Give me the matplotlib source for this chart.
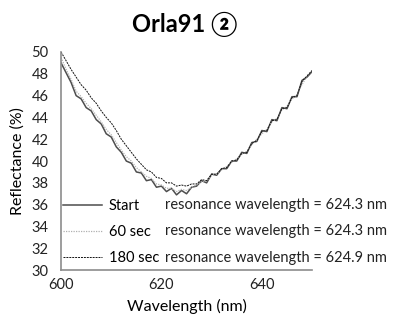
import matplotlib
matplotlib.use("Agg")
import matplotlib.pyplot as plt

# ---------------------------------------------------------------------------
# data (reflectance in %, 1 nm steps)
# ---------------------------------------------------------------------------
wavelength = list(range(600, 651))

start = [49.0, 48.1, 47.2, 46.0, 45.7, 44.9, 44.6, 43.8, 43.4, 42.5,
         42.2, 41.3, 40.8, 40.0, 39.8, 39.0, 38.9, 38.2, 38.3, 37.6,
         37.7, 37.2, 37.5, 36.9, 37.3, 37.0, 37.6, 37.7, 38.2, 38.0,
         38.8, 38.7, 39.3, 39.3, 40.0, 40.0, 40.8, 40.7, 41.7, 41.8,
         42.8, 42.7, 43.8, 43.7, 44.9, 44.8, 45.9, 45.9, 47.4, 47.7, 48.2]

sec60 = [49.5, 48.4, 47.5, 46.4, 45.9, 45.3, 44.8, 44.2, 43.6, 42.9,
         42.4, 41.7, 41.0, 40.4, 40.0, 39.4, 39.0, 38.6, 38.4, 37.9,
         37.8, 37.5, 37.5, 37.2, 37.4, 37.3, 37.6, 37.8, 38.1, 38.2,
         38.7, 38.8, 39.2, 39.5, 39.9, 40.2, 40.6, 40.9, 41.5, 42.0,
         42.5, 42.9, 43.6, 43.9, 44.7, 45.0, 45.7, 46.1, 47.0, 47.8, 48.3]

sec180 = [50.0, 49.2, 48.4, 47.7, 47.0, 46.5, 45.8, 45.3, 44.6, 44.0,
          43.5, 42.8, 42.0, 41.4, 40.8, 40.2, 39.7, 39.2, 39.0, 38.5,
          38.4, 38.0, 38.0, 37.7, 37.8, 37.7, 37.9, 37.9, 38.3, 38.2,
          38.8, 38.8, 39.3, 39.4, 40.0, 40.1, 40.7, 40.8, 41.6, 41.9,
          42.7, 42.8, 43.7, 43.8, 44.8, 44.9, 45.8, 46.0, 47.3, 47.8, 48.3]

labels = ["Start", "60 sec", "180 sec"]
resonance = [624.3, 624.3, 624.9]
x_ticks = [600, 620, 640]
y_ticks = list(range(30, 51, 2))

# ---------------------------------------------------------------------------
plt.rcParams["font.family"] = ["Lato", "Noto Sans CJK JP", "DejaVu Sans"]

fig = plt.figure(figsize=(3.94, 3.27), dpi=100)
ax = fig.add_axes([0.155, 0.174, 0.637, 0.667])

ax.plot(wavelength, start, color="#4d4d4d", lw=1.1, ls="-", label=labels[0])
ax.plot(wavelength, sec60, color="#b0b0b0", lw=0.9, ls=(0, (1, 1)), label=labels[1])
ax.plot(wavelength, sec180, color="#111111", lw=0.7, ls=(0, (2, 1)), label=labels[2])

ax.set_xlim(600, 650)
ax.set_ylim(30, 50)
ax.set_xticks(x_ticks)
ax.set_yticks(y_ticks)
ax.tick_params(axis="y", length=0, labelsize=10.5, pad=9, colors="#222222")
ax.tick_params(axis="x", length=0, labelsize=10.5, pad=6, colors="#222222")

for side in ["top", "right"]:
    ax.spines[side].set_visible(False)
for side in ["left", "bottom"]:
    ax.spines[side].set_color("#8c8c8c")
    ax.spines[side].set_linewidth(1.2)

ax.set_xlabel("Wavelength (nm)", fontsize=11.5, labelpad=5)
ax.set_ylabel("Reflectance (%)", fontsize=11.5, labelpad=5)
fig.text(0.47, 0.925, "Orla91 \u2461", fontsize=17, fontweight="bold",
         ha="center", va="center")

ax.legend(loc="lower left", bbox_to_anchor=(-0.01, 0.005), frameon=False,
          fontsize=10.5, handlelength=2.7, handletextpad=0.45,
          labelspacing=0.8, borderaxespad=0.0, borderpad=0.3)

# resonance notes next to each legend row
rows_y = [0.298, 0.179, 0.055]
for ry, rw in zip(rows_y, resonance):
    ax.text(0.414, ry, f"resonance wavelength = {rw} nm", fontsize=10.5,
            transform=ax.transAxes, va="center", ha="left", color="#222222")

fig.savefig("out.png", dpi=100)
